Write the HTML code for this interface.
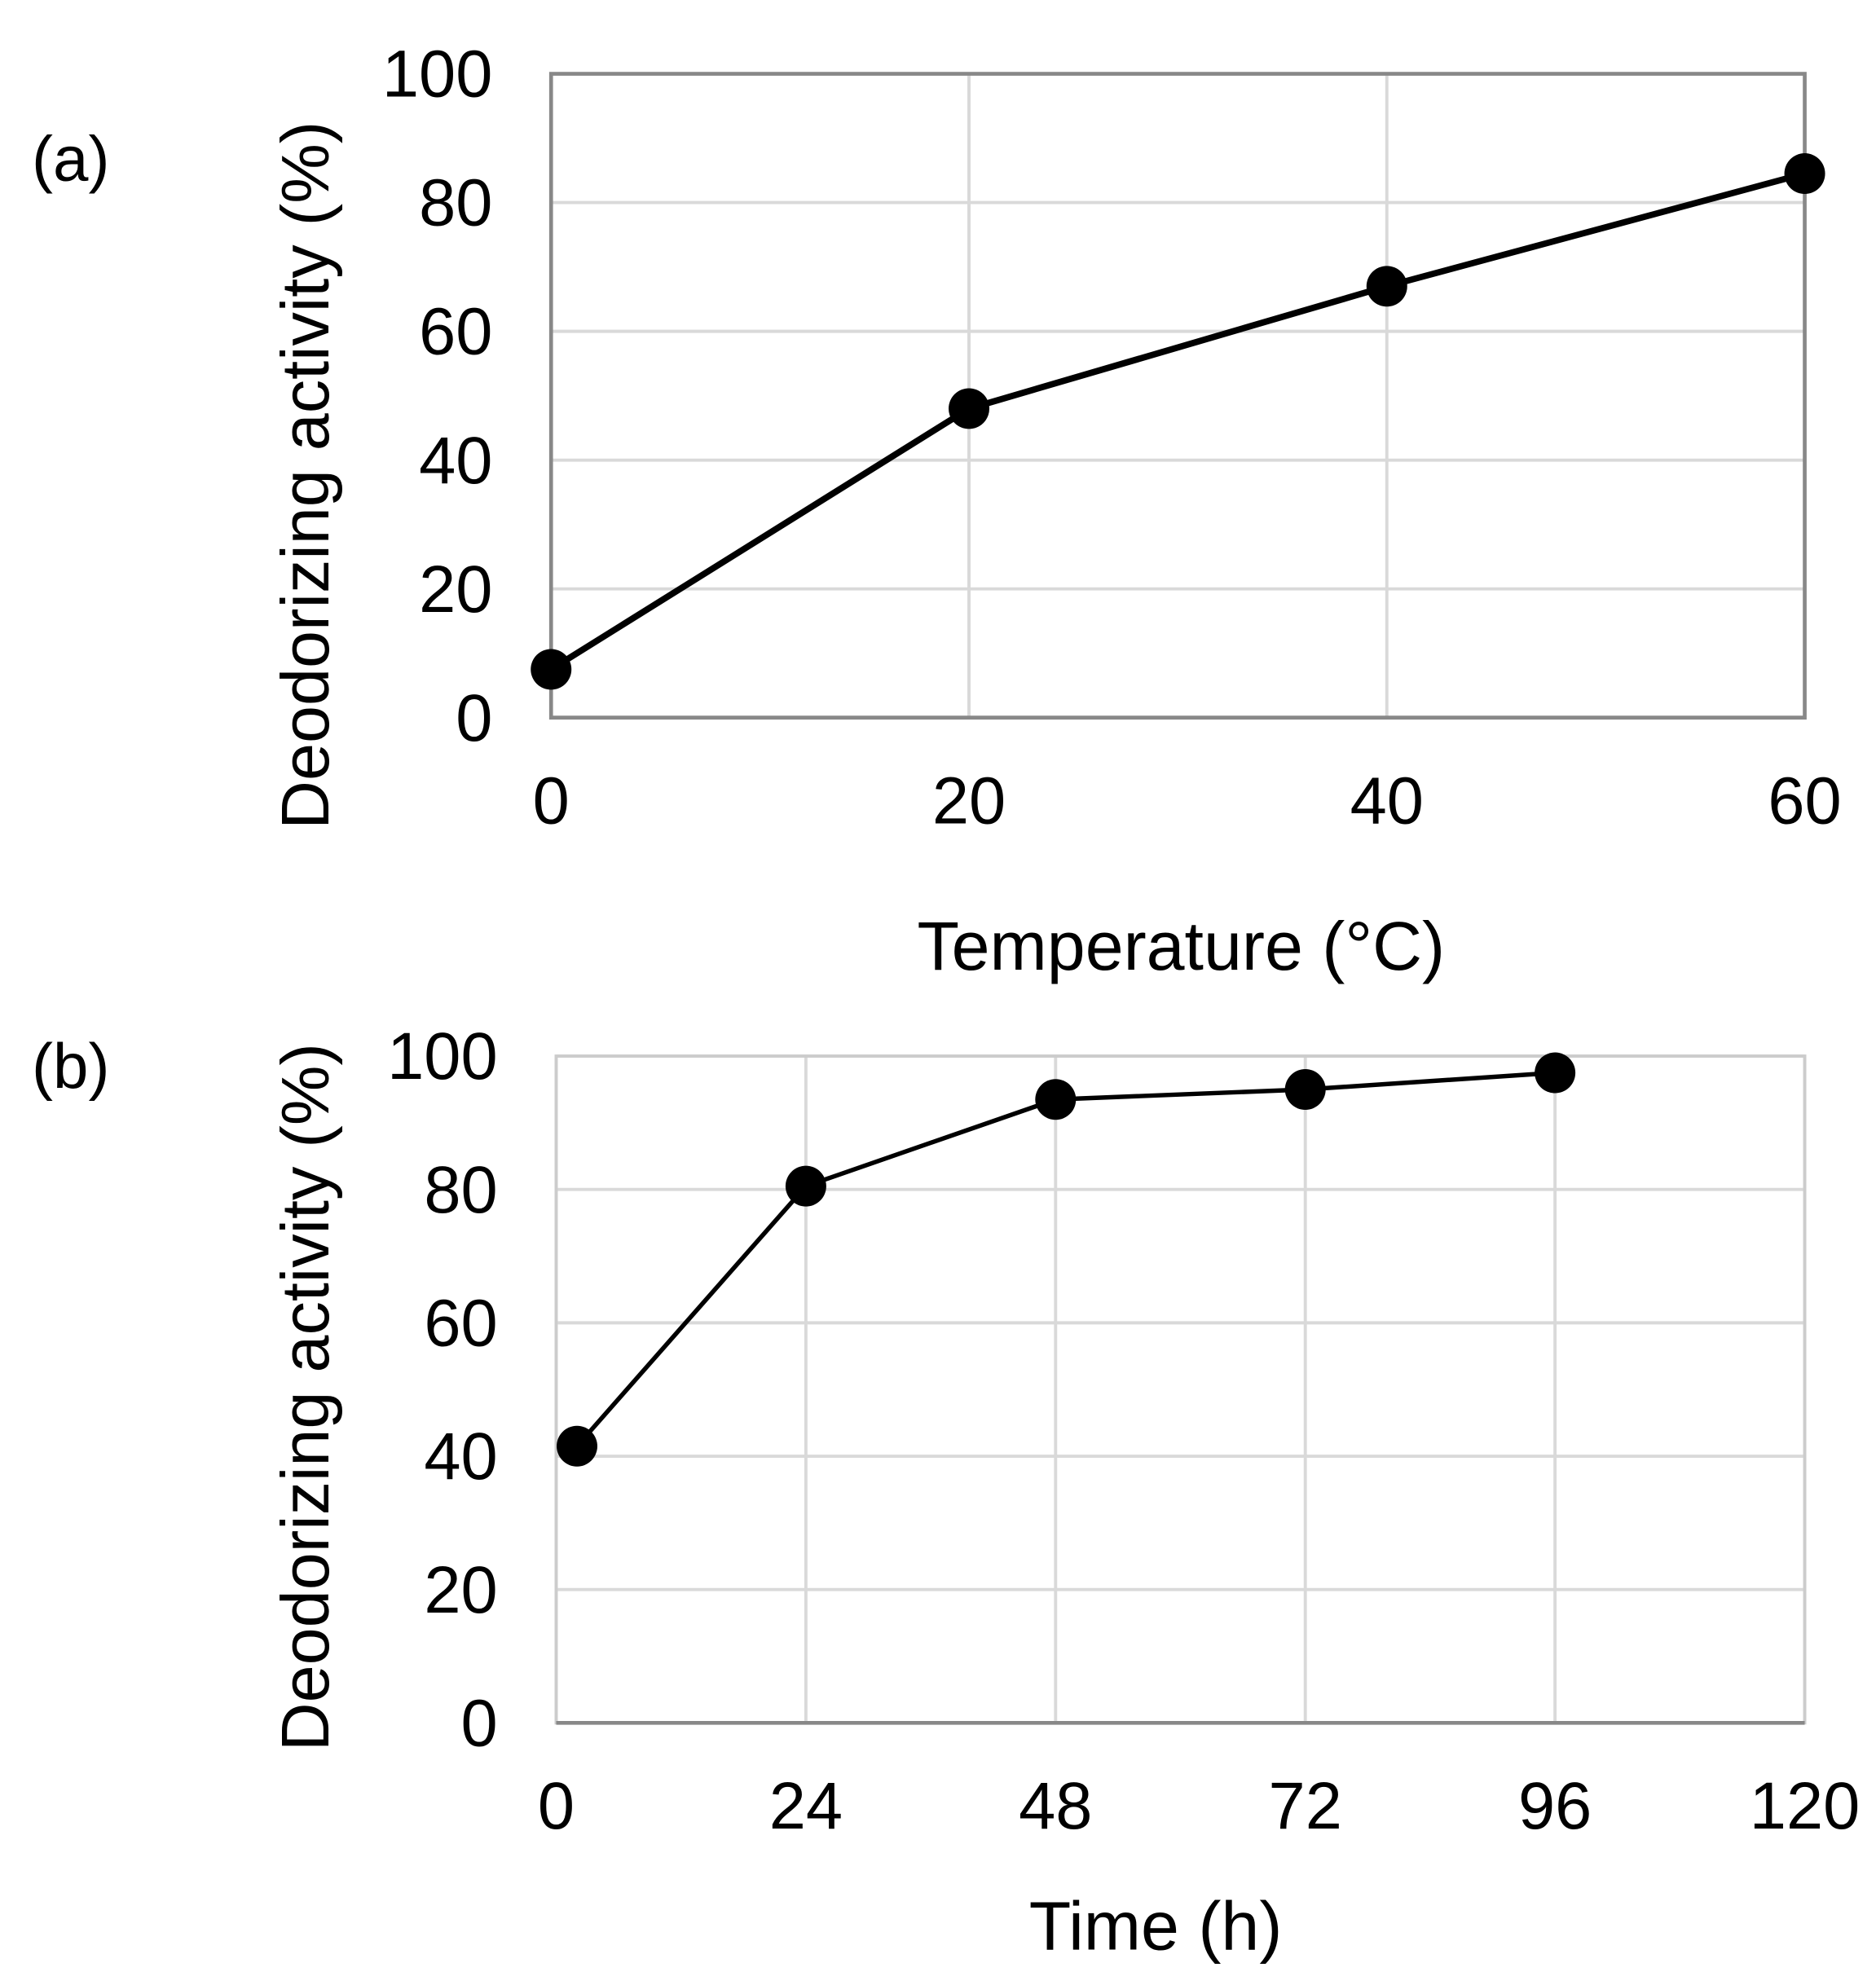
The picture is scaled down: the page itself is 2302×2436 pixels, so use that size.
<!DOCTYPE html>
<html><head><meta charset="utf-8"><style>
html,body{margin:0;padding:0;background:#fff;}
svg{display:block;font-family:"Liberation Sans",Arial,sans-serif;}
</style></head><body>
<svg id="fig" width="2302" height="2436" viewBox="0 0 1474 1560" preserveAspectRatio="none" xmlns="http://www.w3.org/2000/svg">
<g id="ga"></g>
<g id="gb"></g>
</svg>
<script>
const tempX = [0, 20, 40, 60];
const tempY = [7.5, 48, 67, 84.5];
const tempTicks = [0, 20, 40, 60];
const timeX = [2, 24, 48, 72, 96];
const timeY = [41.5, 80.5, 93.5, 95, 97.5];
const timeTicks = [0, 24, 48, 72, 96, 120];
const yTicks = [0, 20, 40, 60, 80, 100];
const NS = 'http://www.w3.org/2000/svg';
function mk(p, tag, at, txt){const e=document.createElementNS(NS,tag);for(const k in at)e.setAttribute(k,at[k]);if(txt!==undefined)e.textContent=txt;p.appendChild(e);return e;}
function panel(g, o){
  const sx=v=>o.l+(v-o.xmin)/(o.xmax-o.xmin)*(o.r-o.l);
  const sy=v=>o.b-(v/100)*(o.b-o.t);
  yTicks.forEach(v=>{
    const ln=mk(g,'line',{x1:o.l,x2:o.r,y1:sy(v),y2:sy(v),stroke:'#d9d9d9','stroke-width':2.5});
    
    
    const t=mk(g,'text',{x:o.l-46,y:sy(v)+18,'text-anchor':'end','font-size':52},String(v));
    
    
  });
  o.ticks.forEach(v=>{
    const ln=mk(g,'line',{x1:sx(v),x2:sx(v),y1:o.t,y2:o.b,stroke:'#d9d9d9','stroke-width':2.5});
    
    
    const t=mk(g,'text',{x:sx(v),y:o.b+83,'text-anchor':'middle','font-size':52},String(v));
    
    
  });
  const fr=mk(g,'rect',{x:o.l,y:o.t,width:o.r-o.l,height:o.b-o.t,fill:'none',stroke:o.frame,'stroke-width':o.fw});
  
  
  const ax=mk(g,'line',{x1:o.l,x2:o.r,y1:o.b,y2:o.b,stroke:'#888','stroke-width':3});
  
  
  const pts=o.xs.map((x,i)=>sx(x)+','+sy(o.ys[i])).join(' ');
  const pl=mk(g,'polyline',{points:pts,fill:'none',stroke:'#000','stroke-width':o.lw,'stroke-linejoin':'round'});
  
  
  o.xs.forEach((x,i)=>{
    const c=mk(g,'circle',{cx:sx(x),cy:sy(o.ys[i]),r:16,fill:'#000'});
    
    
  });
  const xt=mk(g,'text',{x:o.xtx,y:o.xty,'text-anchor':'middle','font-size':54},o.xtitle);
  
  
  const cy=(o.yt0+o.yt1)/2;
  const yt=mk(g,'text',{x:0,y:0,transform:'translate(258,'+cy+') rotate(-90)','text-anchor':'middle','font-size':53},'Deodorizing activity (%)');
  
  
  const pl2=mk(g,'text',{x:25,y:o.lab,'font-size':50},o.label);
  
  
}
panel(document.getElementById('ga'),{l:433,r:1418,t:58,b:564,xmin:0,xmax:60,ticks:tempTicks,xs:tempX,ys:tempY,frame:'#888',fw:3,lw:5,xtitle:'Temperature (°C)',xtx:928,xty:762,yt0:95,yt1:652,label:'(a)',lab:142});
panel(document.getElementById('gb'),{l:437,r:1418,t:830,b:1354,xmin:0,xmax:120,ticks:timeTicks,xs:timeX,ys:timeY,frame:'#ccc',fw:2.5,lw:3.5,xtitle:'Time (h)',xty:1532,xtx:908,yt0:818,yt1:1378,label:'(b)',lab:855});
</script>
</body></html>
